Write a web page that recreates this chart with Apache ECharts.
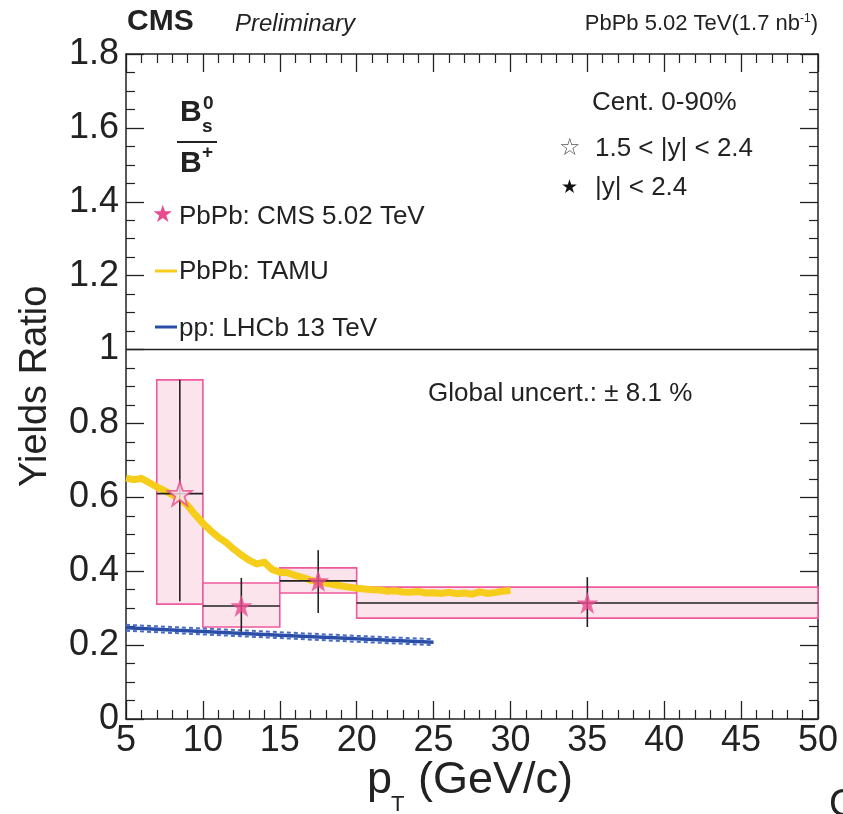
<!DOCTYPE html>
<html>
<head>
<meta charset="utf-8">
<script src="https://cdn.jsdelivr.net/npm/echarts@6/dist/echarts.min.js"></script>
<style>
html,body{margin:0;padding:0;background:#fff;}
#chart{width:843px;height:814px;}
</style>
</head>
<body>
<div id="chart"></div>
<script>
// ---- data ----
const xTicks = [5, 10, 15, 20, 25, 30, 35, 40, 45, 50];
const yTicks = [0, 0.2, 0.4, 0.6, 0.8, 1, 1.2, 1.4, 1.6, 1.8];

// CMS PbPb Bs0/B+ points
const ptCenter = [8.5, 12.5, 17.5, 35];
const ptLow    = [7, 10, 15, 20];
const ptHigh   = [10, 15, 20, 50];
const ratio    = [0.61, 0.306, 0.374, 0.314];
const statLow  = [0.319, 0.236, 0.287, 0.249];
const statHigh = [0.918, 0.382, 0.457, 0.384];
const systLow  = [0.311, 0.249, 0.341, 0.273];
const systHigh = [0.918, 0.368, 0.409, 0.357];
const openPoint = [true, false, false, false]; // 1.5<|y|<2.4 (open star)

// TAMU model
const tamuPt  = [5,5.5,6,6.5,7,7.5,8,8.5,9,9.5,10,10.5,11,11.5,12,12.5,13,13.5,14,14.5,15,15.5,16,16.5,17,17.5,18,18.5,19,19.5,20,20.5,21,21.5,22,22.5,23,23.5,24,24.5,25,25.5,26,26.5,27,27.5,28,28.5,29,29.5,30];
const tamuVal = [0.652,0.648,0.651,0.640,0.628,0.618,0.607,0.596,0.578,0.553,0.530,0.510,0.492,0.478,0.460,0.444,0.430,0.420,0.424,0.405,0.397,0.396,0.389,0.383,0.376,0.371,0.368,0.364,0.360,0.357,0.354,0.352,0.350,0.349,0.346,0.347,0.344,0.343,0.345,0.341,0.342,0.340,0.343,0.339,0.341,0.338,0.344,0.340,0.342,0.346,0.348];

// LHCb pp 13 TeV
const lhcbPt  = [5, 10, 15, 20, 25];
const lhcbVal = [0.247, 0.237, 0.227, 0.217, 0.208];
const lhcbUp  = [0.255, 0.245, 0.235, 0.225, 0.216];
const lhcbDn  = [0.239, 0.229, 0.219, 0.209, 0.200];

const unityLine = [[5, 1], [50, 1]];

// ---- styling ----
const FONT = '"Liberation Sans", Arial, Helvetica, sans-serif';
const INK = '#222222';
const PINK = '#ea4a8f';
const BOXFILL = '#fce4ec';
const BOXLINE = '#f0599c';
const YELLOW = '#f7cd1c';
const BLUE = '#2a4ea8';
const STAR = 'path://M50,0 L61.8,35.4 L99,35.4 L69,57.3 L80.4,92.7 L50,70.8 L19.6,92.7 L31,57.3 L1,35.4 L38.2,35.4 Z';

const boxData = ptCenter.map((c, i) => [ptLow[i], ptHigh[i], systLow[i], systHigh[i]]);
const errData = ptCenter.map((c, i) => [c, ratio[i], ptLow[i], ptHigh[i], statLow[i], statHigh[i]]);
const filledStars = ptCenter.map((c, i) => openPoint[i] ? null : [c, ratio[i]]).filter(d => d);
const openStars = ptCenter.map((c, i) => openPoint[i] ? [c, ratio[i]] : null).filter(d => d);

function fmt(v) { return String(Math.round(v * 10) / 10); }

const axisCommon = {
  type: 'value',
  axisLine: { show: true, onZero: false, lineStyle: { color: INK, width: 1.5 } },
  axisTick: { show: true, inside: true, length: 18, lineStyle: { color: INK, width: 1.3 } },
  minorTick: { show: true, length: 9, lineStyle: { color: INK, width: 1.2 } },
  splitLine: { show: false },
  minorSplitLine: { show: false }
};

const chart = echarts.init(document.getElementById('chart'), null, { renderer: 'canvas' });

function txt(x, y, text, size, opts) {
  opts = opts || {};
  return {
    type: 'text', x: x, y: y, rotation: opts.rotation || 0, z: 100,
    style: {
      text: text, fill: opts.color || INK,
      font: (opts.style || '') + ' ' + (opts.weight || 'normal') + ' ' + size + 'px ' + (opts.family || FONT),
      textAlign: opts.align || 'left', textVerticalAlign: 'middle'
    }
  };
}

const option = {
  backgroundColor: '#ffffff',
  animation: false,
  grid: { left: 126, right: 25, top: 54, bottom: 95, containLabel: false },
  xAxis: [
    Object.assign({}, axisCommon, {
      position: 'bottom', min: xTicks[0], max: xTicks[xTicks.length - 1], interval: xTicks[1] - xTicks[0],
      minorTick: Object.assign({}, axisCommon.minorTick, { splitNumber: 5 }),
      axisLabel: { show: true, margin: 4, color: INK, fontSize: 36, fontFamily: FONT, formatter: fmt }
    }),
    Object.assign({}, axisCommon, {
      position: 'top', min: xTicks[0], max: xTicks[xTicks.length - 1], interval: xTicks[1] - xTicks[0],
      minorTick: Object.assign({}, axisCommon.minorTick, { splitNumber: 5 }),
      axisLabel: { show: false }
    })
  ],
  yAxis: [
    Object.assign({}, axisCommon, {
      position: 'left', min: yTicks[0], max: yTicks[yTicks.length - 1], interval: yTicks[1] - yTicks[0],
      minorTick: Object.assign({}, axisCommon.minorTick, { splitNumber: 4 }),
      axisLabel: { show: true, margin: 7, color: INK, fontSize: 36, fontFamily: FONT, formatter: fmt }
    }),
    Object.assign({}, axisCommon, {
      position: 'right', min: yTicks[0], max: yTicks[yTicks.length - 1], interval: yTicks[1] - yTicks[0],
      minorTick: Object.assign({}, axisCommon.minorTick, { splitNumber: 4 }),
      axisLabel: { show: false }
    })
  ],
  series: [
    {
      type: 'line', name: 'unity', data: unityLine, xAxisIndex: 0, yAxisIndex: 0,
      showSymbol: false, symbol: 'none', lineStyle: { color: INK, width: 1.5 }, z: 1, silent: true
    },
    {
      type: 'custom', name: 'syst', xAxisIndex: 0, yAxisIndex: 0, data: boxData, z: 2,
      renderItem: function (params, api) {
        const a = api.coord([api.value(0), api.value(3)]);
        const b = api.coord([api.value(1), api.value(2)]);
        return {
          type: 'rect',
          shape: { x: a[0], y: a[1], width: b[0] - a[0], height: b[1] - a[1] },
          style: { fill: BOXFILL, stroke: BOXLINE, lineWidth: 1.6 }
        };
      }
    },
    {
      type: 'line', name: 'PbPb: TAMU', xAxisIndex: 0, yAxisIndex: 0,
      data: tamuPt.map((p, i) => [p, tamuVal[i]]),
      showSymbol: false, symbol: 'none', lineStyle: { color: YELLOW, width: 7, cap: 'butt', join: 'miter' }, z: 3
    },
    {
      type: 'line', name: 'LHCb up', xAxisIndex: 0, yAxisIndex: 0,
      data: lhcbPt.map((p, i) => [p, lhcbUp[i]]),
      showSymbol: false, symbol: 'none', lineStyle: { color: '#4a6cc0', width: 2, type: [4, 3] }, z: 4
    },
    {
      type: 'line', name: 'LHCb dn', xAxisIndex: 0, yAxisIndex: 0,
      data: lhcbPt.map((p, i) => [p, lhcbDn[i]]),
      showSymbol: false, symbol: 'none', lineStyle: { color: '#4a6cc0', width: 2, type: [4, 3] }, z: 4
    },
    {
      type: 'line', name: 'pp: LHCb 13 TeV', xAxisIndex: 0, yAxisIndex: 0,
      data: lhcbPt.map((p, i) => [p, lhcbVal[i]]),
      showSymbol: false, symbol: 'none', lineStyle: { color: BLUE, width: 3.5 }, z: 5
    },
    {
      type: 'custom', name: 'stat', xAxisIndex: 0, yAxisIndex: 0, data: errData, z: 6,
      renderItem: function (params, api) {
        const c = api.coord([api.value(0), api.value(1)]);
        const xl = api.coord([api.value(2), api.value(1)]);
        const xh = api.coord([api.value(3), api.value(1)]);
        const yl = api.coord([api.value(0), api.value(4)]);
        const yh = api.coord([api.value(0), api.value(5)]);
        return {
          type: 'group',
          children: [
            { type: 'line', shape: { x1: xl[0], y1: c[1], x2: xh[0], y2: c[1] }, style: { stroke: INK, lineWidth: 1.6 } },
            { type: 'line', shape: { x1: c[0], y1: yl[1], x2: c[0], y2: yh[1] }, style: { stroke: INK, lineWidth: 1.6 } }
          ]
        };
      }
    },
    {
      type: 'scatter', name: 'PbPb: CMS 5.02 TeV', xAxisIndex: 0, yAxisIndex: 0, data: filledStars, z: 7,
      symbol: STAR, symbolSize: 22, itemStyle: { color: PINK }
    },
    {
      type: 'scatter', name: 'PbPb open', xAxisIndex: 0, yAxisIndex: 0, data: openStars, z: 7,
      symbol: STAR, symbolSize: 24, itemStyle: { color: '#fde9f0', borderColor: PINK, borderWidth: 1.8 }
    }
  ],
  graphic: [
    // header
    txt(127, 22, 'CMS', 30, { weight: 'bold' }),
    txt(235, 24, 'Preliminary', 24, { style: 'italic' }),
    {
      type: 'text', x: 818, y: 24, z: 100,
      style: {
        text: '{a|PbPb 5.02 TeV(1.7 nb}{s|-1}{a|)}', textAlign: 'right', textVerticalAlign: 'middle',
        rich: {
          a: { fontSize: 22, fontFamily: FONT, fill: INK, color: INK },
          s: { fontSize: 12, fontFamily: FONT, fill: INK, color: INK, verticalAlign: 'top' }
        }
      }
    },
    // Bs0 / B+
    txt(180, 113, 'B', 30, { weight: 'bold' }),
    txt(202, 127, 's', 19, { weight: 'bold' }),
    txt(203, 104, '0', 19, { weight: 'bold' }),
    { type: 'line', z: 100, shape: { x1: 177, y1: 142, x2: 217, y2: 142 }, style: { stroke: INK, lineWidth: 2 } },
    txt(180, 164, 'B', 30, { weight: 'bold' }),
    txt(202, 153, '+', 19, { weight: 'bold' }),
    // legend
    txt(152, 216, '★', 24, { color: PINK, family: '"DejaVu Sans", sans-serif' }),
    txt(179, 217, 'PbPb: CMS 5.02 TeV', 26),
    { type: 'line', z: 100, shape: { x1: 155, y1: 271, x2: 177, y2: 271 }, style: { stroke: YELLOW, lineWidth: 3 } },
    txt(179, 272, 'PbPb: TAMU', 26),
    { type: 'line', z: 100, shape: { x1: 155, y1: 327, x2: 177, y2: 327 }, style: { stroke: BLUE, lineWidth: 3 } },
    txt(179, 329, 'pp: LHCb 13 TeV', 26),
    // right annotations
    txt(592, 103, 'Cent. 0-90%', 26),
    txt(559, 149, '☆', 24, { color: '#555', family: '"DejaVu Sans", sans-serif' }),
    txt(595, 149, '1.5 < |y| < 2.4', 26),
    txt(561, 188, '★', 19, { color: '#111', family: '"DejaVu Sans", sans-serif' }),
    txt(595, 188, '|y| < 2.4', 26),
    txt(428, 394, 'Global uncert.: ± 8.1 %', 26),
    // axis titles
    txt(36, 487, 'Yields Ratio', 38, { rotation: Math.PI / 2 }),
    txt(367, 781, 'p', 45),
    txt(391, 805, 'T', 22),
    txt(418, 781, '(GeV/c)', 45),
    // stray glyph bottom-right
    txt(829, 806, 'C', 38)
  ]
};

chart.setOption(option);
</script>
</body>
</html>
